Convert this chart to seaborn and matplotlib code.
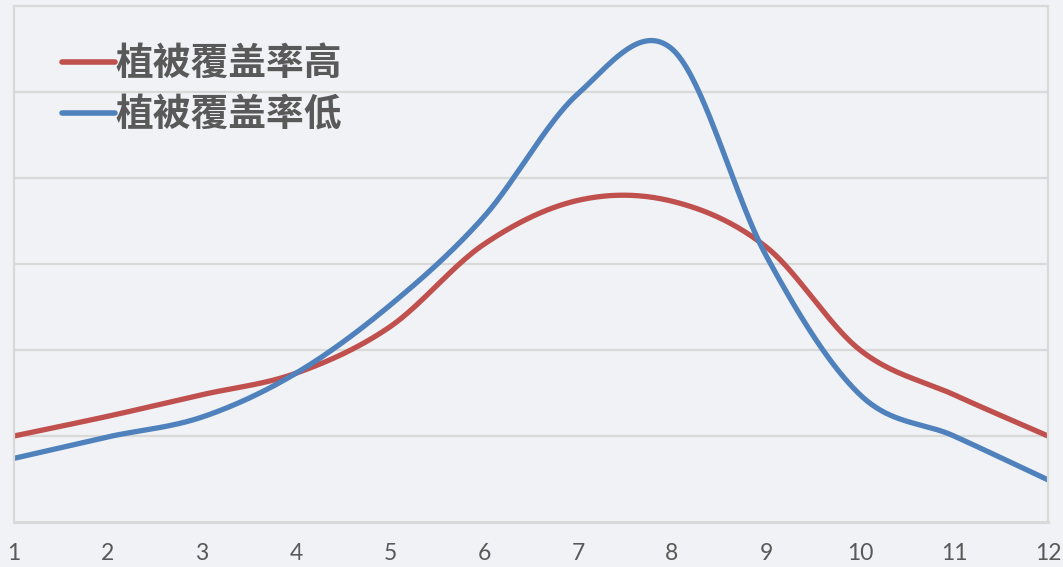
import numpy as np
import pandas as pd
import matplotlib
matplotlib.use("Agg")
import matplotlib.pyplot as plt
import seaborn as sns

# Monthly values for the two vegetation-cover groups
months = list(range(1, 13))
high_cover = [1.0, 1.23, 1.48, 1.73, 2.27, 3.23, 3.74, 3.73, 3.2, 2.0, 1.48, 1.0]
low_cover = [0.74, 0.99, 1.22, 1.73, 2.52, 3.55, 4.98, 5.5, 3.1, 1.48, 1.0, 0.49]
series_names = ["植被覆盖率高", "植被覆盖率低"]
series_colors = ["#c0504d", "#4f81bd"]
x_tick_labels = [str(m) for m in months]


def smooth_curve(x, y, steps=40):
    """Catmull-Rom style smoothing through every data point."""
    x = np.asarray(x, float)
    y = np.asarray(y, float)
    n = len(x)
    m = np.zeros(n)
    m[1:-1] = (y[2:] - y[:-2]) / (x[2:] - x[:-2])
    m[0] = (y[1] - y[0]) / (x[1] - x[0])
    m[-1] = (y[-1] - y[-2]) / (x[-1] - x[-2])
    xs, ys = [], []
    for i in range(n - 1):
        h = x[i + 1] - x[i]
        t = np.linspace(0, 1, steps, endpoint=(i == n - 2))
        h00 = 2 * t**3 - 3 * t**2 + 1
        h10 = t**3 - 2 * t**2 + t
        h01 = -2 * t**3 + 3 * t**2
        h11 = t**3 - t**2
        xs.append(x[i] + t * h)
        ys.append(h00 * y[i] + h10 * h * m[i] + h01 * y[i + 1] + h11 * h * m[i + 1])
    return np.concatenate(xs), np.concatenate(ys)


frames = []
for name, vals in zip(series_names, [high_cover, low_cover]):
    sx, sy = smooth_curve(months, vals)
    frames.append(pd.DataFrame({"month": sx, "value": sy, "series": name}))
df = pd.concat(frames, ignore_index=True)

sns.set_theme(style="white")
plt.rcParams["font.family"] = ["Noto Sans CJK SC", "DejaVu Sans"]

bg = "#f1f2f5"
fig = plt.figure(figsize=(10.63, 5.67), dpi=100, facecolor=bg)
ax = fig.add_axes([14 / 1063, 1 - 522 / 567, (1048 - 14) / 1063, (522 - 6) / 567])
ax.set_facecolor(bg)

sns.lineplot(
    data=df, x="month", y="value", hue="series", hue_order=series_names,
    palette=series_colors, sort=False, estimator=None, linewidth=3.8,
    ax=ax, legend=False, solid_capstyle="round",
)

ax.set_xlim(1, 12)
ax.set_ylim(0, 6)
ax.set_yticks([1, 2, 3, 4, 5])
ax.set_yticklabels([])
ax.yaxis.grid(True, color="#d9d9d9", linewidth=1.6)
ax.set_axisbelow(True)
ax.set_xticks(months)
ax.set_xticklabels(x_tick_labels, fontsize=16.5, color="#595959",
                   family=["Lato", "DejaVu Sans"])
ax.tick_params(axis="x", length=6, width=1.2, color="#d0d0d0", pad=9, direction="out")
ax.tick_params(axis="y", length=0)
ax.set_xlabel("")
ax.set_ylabel("")
for side in ["left", "right", "top"]:
    ax.spines[side].set_color("#d9d9d9")
    ax.spines[side].set_linewidth(1.6)
ax.spines["bottom"].set_color("#d9d9d9")
ax.spines["bottom"].set_linewidth(2.2)

handles = [plt.Line2D([], [], color=c, linewidth=4, solid_capstyle="round") for c in series_colors]
leg = ax.legend(
    handles, series_names, loc="upper left", bbox_to_anchor=(0.014, 0.992),
    frameon=False, handlelength=1.4, handletextpad=0.0, labelspacing=0.32,
    prop={"family": ["Noto Sans CJK SC", "DejaVu Sans"], "size": 27.2, "weight": "bold"},
)
for t in leg.get_texts():
    t.set_color("#595959")

fig.savefig("out.png", dpi=100, facecolor=bg)
